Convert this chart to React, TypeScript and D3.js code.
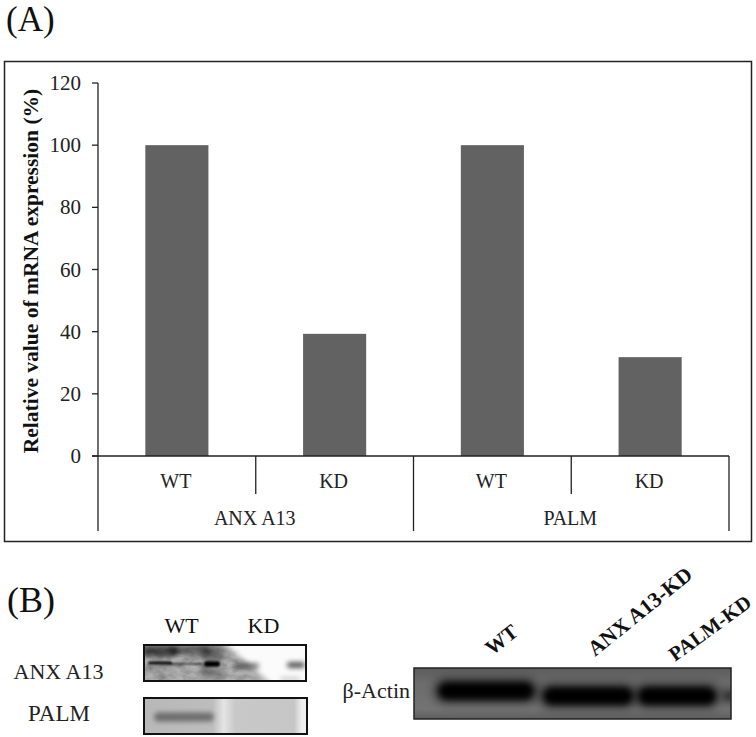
import React from "react";
import * as d3 from "d3";

const W = 756, H = 737;
const FONT = "'Liberation Serif', 'Times New Roman', serif";

const conditions = ["WT", "KD", "WT", "KD"];
const groups = ["ANX A13", "PALM"];
const values = [100, 39.3, 100, 31.8];
const yTicks = [0, 20, 40, 60, 80, 100, 120];
const blotLanes = ["WT", "KD"];
const actinLanes = ["WT", "ANX A13-KD", "PALM-KD"];

// blot bands: cx, cy, half-width, half-height, opacity
const anxShade = [
  [160, 651, 18, 6, 0.6], [190, 650, 20, 5, 0.45], [212, 654, 12, 8, 0.4], [212, 673, 12, 6, 0.28],
  [160, 669, 16, 4, 0.12], [246, 666, 13, 3, 0.5], [296, 665, 9, 3, 0.65], [290, 679, 10, 1.5, 0.25],
];
const anxCore = [
  [160, 663, 12, 1.6, 0.95], [186, 664, 17, 1, 0.55], [212, 664, 8, 2.8, 1],
];
const palmBands = [[184, 717, 30, 4.5, 0.42]];
const actinBands = [
  [486, 691, 48, 9, 1], [588, 696, 45, 9, 1], [677, 696, 39, 9, 1], [729, 696, 2.5, 3, 0.85],
];
// rotated lane labels: x, y, angle, size
const actinLabelPos = [[492, 656, -38, 21], [595, 657, -39, 21.5], [675, 662, -36, 20.5]];

function Bands({ data, filter }: { data: number[][]; filter: string }) {
  return (
    <g filter={`url(#${filter})`}>
      {data.map(([cx, cy, hw, hh, o], i) => (
        <rect key={i} x={cx - hw} y={cy - hh} width={hw * 2} height={hh * 2} rx={Math.min(hw, hh)} fill="#000" opacity={o} />
      ))}
    </g>
  );
}

export default function App() {
  const y = d3.scaleLinear().domain([0, 120]).range([456, 83]);
  const x = d3.scaleBand<number>().domain(d3.range(values.length)).range([98, 729]);
  const barW = x.bandwidth() * 0.4;
  const groupX = d3.scaleBand<string>().domain(groups).range([98, 729]);
  const sz = 20;

  return (
    <svg width={W} height={H} viewBox={`0 0 ${W} ${H}`} fontFamily={FONT}
      style={{ position: "absolute", left: 0, top: 0, background: "#fff" }}>
      <defs>
        <filter id="b0" x="-30%" y="-200%" width="160%" height="500%"><feGaussianBlur stdDeviation="1" /></filter>
        <filter id="b1" x="-30%" y="-100%" width="160%" height="300%"><feGaussianBlur stdDeviation="2.5" /></filter>
        <filter id="b2" x="-30%" y="-100%" width="160%" height="300%"><feGaussianBlur stdDeviation="3" /></filter>
        <filter id="b3" x="-30%" y="-100%" width="160%" height="300%"><feGaussianBlur stdDeviation="4.5" /></filter>
        <filter id="noise" x="0" y="0" width="100%" height="100%">
          <feTurbulence type="fractalNoise" baseFrequency="0.09 0.16" numOctaves={3} seed={7} />
          <feColorMatrix type="matrix" values="0 0 0 0 0  0 0 0 0 0  0 0 0 0 0  1.6 0 0 0 -0.55" result="n" />
          <feGaussianBlur in="SourceAlpha" stdDeviation="4" result="m" />
          <feComposite in="n" in2="m" operator="in" />
        </filter>
        <clipPath id="c1"><rect x={144} y={645} width={162} height={36} /></clipPath>
        <clipPath id="c2"><rect x={144} y={698} width={163} height={36} /></clipPath>
        <clipPath id="c3"><rect x={414} y={668} width={317} height={51} /></clipPath>
        <linearGradient id="palmBg" x1="0" x2="1" y1="0" y2="0">
          <stop offset="0" stopColor="#b8b8b8" /><stop offset="0.42" stopColor="#bdbdbd" />
          <stop offset="0.49" stopColor="#e4e4e4" /><stop offset="0.56" stopColor="#c8c8c8" />
          <stop offset="0.92" stopColor="#c6c6c6" /><stop offset="0.97" stopColor="#f0f0f0" /><stop offset="1" stopColor="#f0f0f0" />
        </linearGradient>
        <linearGradient id="actinBg" x1="0" x2="0" y1="0" y2="1">
          <stop offset="0" stopColor="#5c5c5c" /><stop offset="0.3" stopColor="#6c6c6c" />
          <stop offset="0.8" stopColor="#737373" /><stop offset="1" stopColor="#5e5e5e" />
        </linearGradient>
      </defs>

      <text x={6} y={31} fontSize={35} fill="#111">(A)</text>
      <rect x={4.5} y={61.5} width={747} height={480} fill="none" stroke="#222" strokeWidth={1.5} />

      {/* bars */}
      {values.map((v, i) => (
        <rect key={i} x={x(i)! + (x.bandwidth() - barW) / 2} y={y(v)} width={barW} height={y(0) - y(v)} fill="#626262" />
      ))}

      {/* y axis */}
      <line x1={98} x2={98} y1={83} y2={531} stroke="#222" strokeWidth={1.3} />
      {yTicks.map((t) => (
        <g key={t}>
          <line x1={92} x2={98} y1={y(t)} y2={y(t)} stroke="#222" strokeWidth={1.3} />
          <text x={81} y={y(t) + 7} textAnchor="end" fontSize={21} fill="#222">{t}</text>
        </g>
      ))}
      <text transform="translate(38,271) rotate(-90)" textAnchor="middle" fontSize={21.5} fontWeight="bold" fill="#111">
        Relative value of mRNA expression (%)
      </text>

      {/* x axis */}
      <line x1={92} x2={729} y1={456} y2={456} stroke="#222" strokeWidth={1.3} />
      {conditions.map((c, i) => (
        <g key={i}>
          <text x={x(i)! + x.bandwidth() / 2 - 1} y={488} textAnchor="middle" fontSize={sz} fill="#222">{c}</text>
          <line x1={x(i)! + x.bandwidth()} x2={x(i)! + x.bandwidth()} y1={456}
            y2={i % 2 === 1 ? 531 : 494} stroke="#222" strokeWidth={1.3} />
        </g>
      ))}
      {groups.map((g) => (
        <text key={g} x={groupX(g)! + groupX.bandwidth() / 2 - 1} y={525} textAnchor="middle" fontSize={sz} fill="#222">{g}</text>
      ))}

      {/* panel B */}
      <text x={7} y={612} fontSize={36} fill="#111">(B)</text>
      {blotLanes.map((l, i) => (
        <text key={l} x={181.5 + i * 82} y={633} textAnchor="middle" fontSize={22} fill="#111">{l}</text>
      ))}
      <text x={58.5} y={679} textAnchor="middle" fontSize={22} fill="#222">{groups[0]}</text>
      <text x={59} y={721} textAnchor="middle" fontSize={23} fill="#222">{groups[1]}</text>

      {/* ANX A13 blot */}
      <g clipPath="url(#c1)">
        <rect x={144} y={645} width={162} height={36} fill="#fbfbfb" />
        <path d={d3.line()([[140, 641], [222, 641], [272, 684], [140, 684]])! + "Z"} fill="#b4b4b4" filter="url(#b1)" />
        <Bands data={anxShade} filter="b1" />
        <Bands data={anxCore} filter="b0" />
        <path d={d3.line()([[140, 641], [222, 641], [262, 684], [140, 684]])! + "Z"} filter="url(#noise)" opacity={0.3} />
      </g>
      <rect x={144} y={645} width={162} height={36} fill="none" stroke="#111" strokeWidth={2} />

      {/* PALM blot */}
      <rect x={144} y={698} width={163} height={36} fill="url(#palmBg)" />
      <g clipPath="url(#c2)">
        <Bands data={palmBands} filter="b1" />
      </g>
      <rect x={144} y={698} width={163} height={36} fill="none" stroke="#111" strokeWidth={2} />

      {/* beta-actin blot */}
      <rect x={414} y={668} width={317} height={51} fill="url(#actinBg)" />
      <g clipPath="url(#c3)">
        <Bands data={actinBands.map(([a, b, c, d]) => [a, b, c + 6, d + 5, 0.35])} filter="b3" />
        <Bands data={actinBands} filter="b2" />
      </g>
      <rect x={414} y={668} width={317} height={51} fill="none" stroke="#222" strokeWidth={1.5} />
      <text x={410} y={698} textAnchor="end" fontSize={22} fill="#222">β-Actin</text>

      {actinLanes.map((l, i) => {
        const [lx, ly, a, s] = actinLabelPos[i];
        return (
          <text key={l} transform={`translate(${lx},${ly}) rotate(${a})`} fontSize={s} fontWeight="bold" fill="#111">{l}</text>
        );
      })}
    </svg>
  );
}
